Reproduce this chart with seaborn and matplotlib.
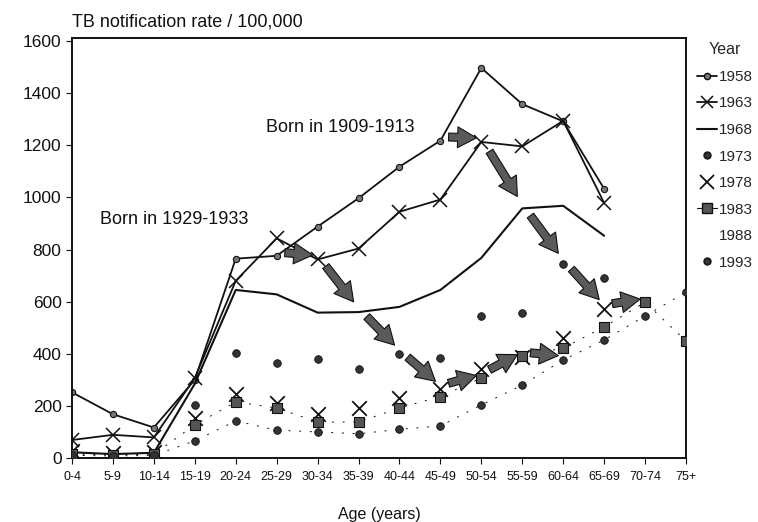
import numpy as np
import pandas as pd
import matplotlib
matplotlib.use("Agg")
import matplotlib.pyplot as plt
from matplotlib.lines import Line2D
import seaborn as sns

nan = np.nan

ages = ["0-4", "5-9", "10-14", "15-19", "20-24", "25-29", "30-34", "35-39",
        "40-44", "45-49", "50-54", "55-59", "60-64", "65-69", "70-74", "75+"]

r1958 = [252, 168, 117, 300, 765, 776, 888, 997, 1118, 1218, 1497, 1358, 1292, 1033, nan, nan]
r1963 = [69, 89, 79, 307, 680, 843, 762, 804, 945, 992, 1213, 1196, 1294, 979, nan, nan]
r1968 = [22, 15, 20, 285, 645, 628, 558, 560, 580, 645, 768, 958, 968, 853, nan, nan]
r1973 = [20, 15, 18, 205, 403, 364, 380, 341, 399, 384, 545, 556, 745, 690, nan, nan]
r1978 = [25, 20, 23, 155, 245, 211, 170, 192, 230, 263, 340, 386, 460, 572, nan, nan]
r1983 = [15, 12, 15, 127, 215, 192, 138, 138, 192, 236, 307, 392, 422, 503, 598, 449]
r1993 = [10, 8, 10, 66, 142, 107, 100, 93, 110, 123, 204, 280, 376, 453, 545, 637]

years = ["1958", "1963", "1968", "1973", "1978", "1983", "1988", "1993"]

# cohorts followed by arrows: (year, age index)
cohort_1909 = [("1958", 9), ("1963", 10), ("1968", 11), ("1973", 12), ("1978", 13), ("1983", 14)]
cohort_1929 = [("1958", 5), ("1963", 6), ("1968", 7), ("1973", 8), ("1978", 9), ("1983", 10),
               ("1983", 11), ("1993", 12)]

series = {"1958": r1958, "1963": r1963, "1968": r1968, "1973": r1973,
          "1978": r1978, "1983": r1983, "1993": r1993}

rows = []
for yr, vals in series.items():
    for i, (a, v) in enumerate(zip(ages, vals)):
        rows.append({"year": yr, "age": a, "pos": i, "rate": v})
df = pd.DataFrame(rows).dropna()

sns.set_style("ticks")
plt.rcParams["font.family"] = ["Liberation Sans", "DejaVu Sans"]

fig = plt.figure(figsize=(7.58, 5.22), dpi=100)
ax = fig.add_axes([72 / 758, 1 - 458 / 522, 614 / 758, 420 / 522])

ink = "#111111"

def sub(yr):
    return df[df["year"] == yr]

sns.lineplot(data=sub("1958"), x="pos", y="rate", color=ink, lw=1.3, marker="o",
             markersize=4.5, markerfacecolor="#777777", markeredgecolor=ink,
             markeredgewidth=0.8, ax=ax)
sns.lineplot(data=sub("1963"), x="pos", y="rate", color=ink, lw=1.3, marker="x",
             markersize=10, markeredgewidth=1.1, markeredgecolor=ink, ax=ax)
sns.lineplot(data=sub("1968"), x="pos", y="rate", color=ink, lw=1.5, ax=ax)
sns.lineplot(data=sub("1983"), x="pos", y="rate", color=ink, lw=0.7,
             linestyle=(0, (2, 9)), ax=ax)
sns.lineplot(data=sub("1993"), x="pos", y="rate", color=ink, lw=0.7,
             linestyle=(0, (2, 9)), ax=ax)
sns.scatterplot(data=sub("1973"), x="pos", y="rate", color="#333333", s=30,
                edgecolor=ink, linewidth=0.6, ax=ax, zorder=3)
sns.scatterplot(data=sub("1978"), x="pos", y="rate", color=ink, marker="x", s=110,
                linewidth=1.3, ax=ax, zorder=3)
sns.scatterplot(data=sub("1983"), x="pos", y="rate", color="#555555", marker="s", s=55,
                edgecolor=ink, linewidth=0.8, ax=ax, zorder=3)
sns.scatterplot(data=sub("1993"), x="pos", y="rate", color="#333333", s=30,
                edgecolor=ink, linewidth=0.6, ax=ax, zorder=3)

# cohort arrows
def val(yr, i):
    return series[yr][i]

for cohort in (cohort_1909, cohort_1929):
    for (y0, i0), (y1, i1) in zip(cohort[:-1], cohort[1:]):
        x0, v0 = i0, val(y0, i0)
        x1, v1 = i1, val(y1, i1)
        sx, sy = x0 + 0.2 * (x1 - x0), v0 + 0.2 * (v1 - v0) + 15
        ex, ey = x0 + 0.88 * (x1 - x0), v0 + 0.88 * (v1 - v0) + 15
        ax.annotate("", xy=(ex, ey), xytext=(sx, sy),
                    arrowprops=dict(arrowstyle="simple,head_length=0.9,head_width=1.0,tail_width=0.38",
                                    mutation_scale=15, fc="#5a5a5a", ec=ink, lw=0.8,
                                    shrinkA=0, shrinkB=0), zorder=4)

ax.text(4.74, 1267, "Born in 1909-1913", fontsize=13, va="center", ha="left", color=ink)
ax.text(0.68, 914, "Born in 1929-1933", fontsize=13, va="center", ha="left", color=ink)

ax.set_xlim(0, 15)
ax.set_ylim(0, 1612)
ax.set_xticks(range(len(ages)))
ax.set_xticklabels(ages, fontsize=9)
ax.set_yticks(range(0, 1601, 200))
ax.tick_params(axis="y", labelsize=12.5, length=4, width=0.8, colors=ink)
ax.tick_params(axis="x", length=4, width=0.8, colors=ink, pad=5)
ax.set_xlabel("Age (years)", fontsize=11.5, labelpad=18, color=ink)
ax.set_ylabel("")
for sp in ax.spines.values():
    sp.set_visible(True)
    sp.set_linewidth(1.4)
    sp.set_color(ink)

ax.text(0.0, 1.038, "TB notification rate / 100,000", transform=ax.transAxes,
        fontsize=13, ha="left", va="center", color=ink)

handles = [
    Line2D([], [], color=ink, lw=1.3, marker="o", ms=4.5, mfc="#777777", mec=ink),
    Line2D([], [], color=ink, lw=1.3, marker="x", ms=9, mew=1.1),
    Line2D([], [], color=ink, lw=1.5),
    Line2D([], [], ls="none", marker="o", ms=5, mfc="#333333", mec=ink),
    Line2D([], [], ls="none", marker="x", ms=10, mew=1.3, color=ink),
    Line2D([], [], color=ink, lw=0.8, marker="s", ms=6.5, mfc="#555555", mec=ink),
    Line2D([], [], ls="none"),
    Line2D([], [], ls="none", marker="o", ms=5, mfc="#333333", mec=ink),
]
leg = ax.legend(handles, years, title="Year", loc="upper left",
                bbox_to_anchor=(1.0, 1.015), frameon=False, fontsize=11,
                title_fontsize=11.5, handlelength=1.3, handletextpad=0.15,
                labelspacing=0.82, borderaxespad=0.3)
leg._legend_box.align = "center"

fig.savefig("out.png", dpi=100)
